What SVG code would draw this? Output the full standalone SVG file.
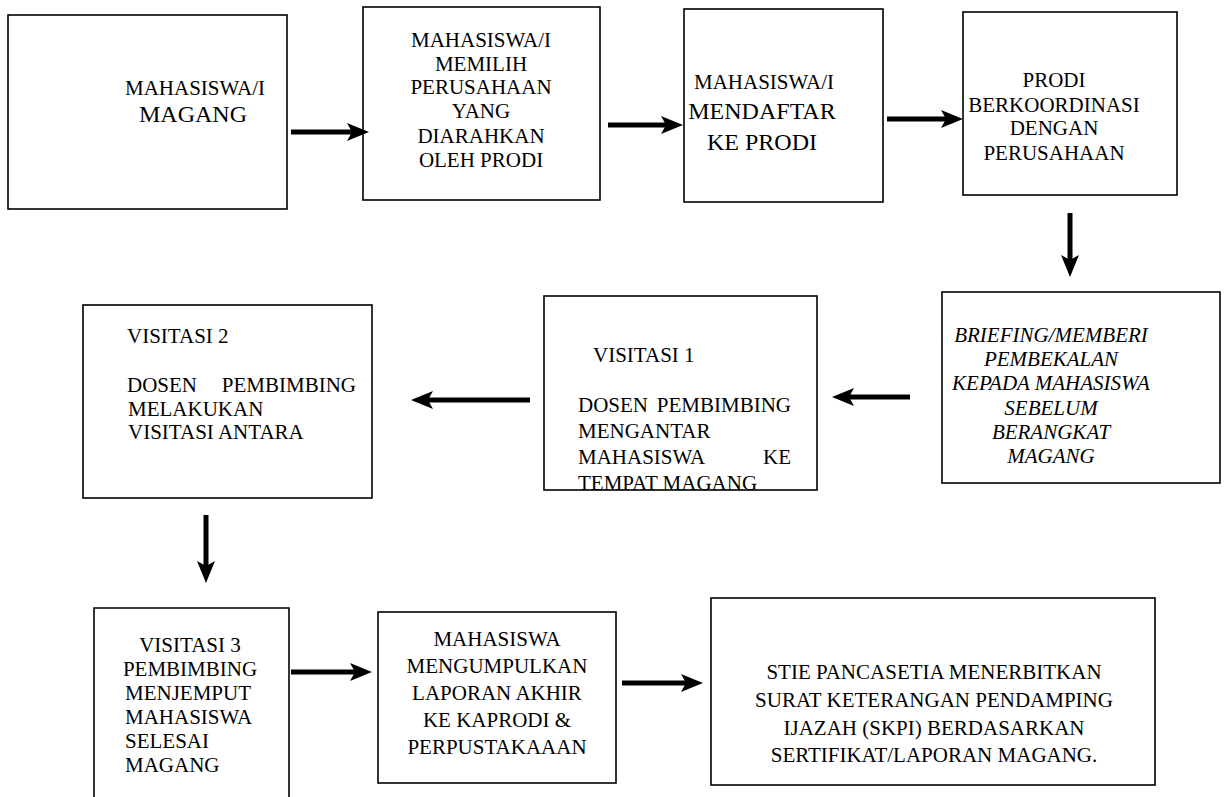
<svg xmlns="http://www.w3.org/2000/svg" width="1227" height="797" viewBox="0 0 1227 797">
<style>
.box{fill:#fff;stroke:#000;stroke-width:1.6}
text{font-family:"Liberation Serif","Times New Roman",serif;font-size:21px;fill:#000}
.c{text-anchor:middle}
.it{font-style:italic}
.big{font-size:24px}
.arr{stroke:#000;stroke-width:5;fill:none;marker-end:url(#ah)}
</style>
<defs>
<marker id="ah" markerUnits="userSpaceOnUse" markerWidth="22" markerHeight="18" refX="5" refY="9" orient="auto">
<path d="M0,0 L22,9 L0,18 L5,9 z" fill="#000"/>
</marker>
</defs>
<rect width="1227" height="797" fill="#fff"/>

<g id="n1">
<rect class="box" x="8" y="15" width="279" height="194"/>
<text class="c" x="195" y="95">MAHASISWA/I</text>
<text class="c big" x="193" y="122">MAGANG</text>
</g>

<g id="n2">
<rect class="box" x="363" y="7" width="237" height="193"/>
<text class="c" x="481" y="47">MAHASISWA/I</text>
<text class="c" x="481" y="71">MEMILIH</text>
<text class="c" x="481" y="94">PERUSAHAAN</text>
<text class="c" x="481" y="118">YANG</text>
<text class="c" x="481" y="143">DIARAHKAN</text>
<text class="c" x="481" y="167">OLEH PRODI</text>
</g>

<g id="n3">
<rect class="box" x="684" y="9" width="199" height="193"/>
<text class="c" x="764" y="89">MAHASISWA/I</text>
<text class="c big" x="762" y="119">MENDAFTAR</text>
<text class="c big" x="762" y="150">KE PRODI</text>
</g>

<g id="n4">
<rect class="box" x="963" y="12" width="214" height="183"/>
<text class="c" x="1054" y="87">PRODI</text>
<text class="c" x="1054" y="112">BERKOORDINASI</text>
<text class="c" x="1054" y="135">DENGAN</text>
<text class="c" x="1054" y="160">PERUSAHAAN</text>
</g>

<g id="n5">
<rect class="box" x="942" y="292" width="278" height="191"/>
<text class="c it" x="1051" y="342">BRIEFING/MEMBERI</text>
<text class="c it" x="1051" y="366">PEMBEKALAN</text>
<text class="c it" x="1051" y="390">KEPADA MAHASISWA</text>
<text class="c it" x="1051" y="415">SEBELUM</text>
<text class="c it" x="1051" y="439">BERANGKAT</text>
<text class="c it" x="1051" y="463">MAGANG</text>
</g>

<g id="n6">
<rect class="box" x="544" y="296" width="273" height="194"/>
<text x="593" y="362">VISITASI 1</text>
<text y="412"><tspan x="578">DOSEN</tspan><tspan x="791" text-anchor="end">PEMBIMBING</tspan></text>
<text x="578" y="438">MENGANTAR</text>
<text y="464"><tspan x="578">MAHASISWA</tspan><tspan x="791" text-anchor="end">KE</tspan></text>
<text x="578" y="490">TEMPAT MAGANG</text>
</g>

<g id="n7">
<rect class="box" x="83" y="305" width="289" height="193"/>
<text x="127" y="343">VISITASI 2</text>
<text y="392"><tspan x="127">DOSEN</tspan><tspan x="356" text-anchor="end">PEMBIMBING</tspan></text>
<text x="128" y="416">MELAKUKAN</text>
<text x="128" y="439">VISITASI ANTARA</text>
</g>

<g id="n8">
<path class="box" d="M94,800 V608 H289 V800"/>
<text class="c" x="190" y="652">VISITASI 3</text>
<text class="c" x="190" y="676">PEMBIMBING</text>
<text x="125" y="700">MENJEMPUT</text>
<text x="125" y="724">MAHASISWA</text>
<text x="125" y="748">SELESAI</text>
<text x="125" y="772">MAGANG</text>
</g>

<g id="n9">
<rect class="box" x="378" y="612" width="238" height="171"/>
<text class="c" x="497" y="646">MAHASISWA</text>
<text class="c" x="497" y="673">MENGUMPULKAN</text>
<text class="c" x="497" y="700">LAPORAN AKHIR</text>
<text class="c" x="497" y="727">KE KAPRODI &amp;</text>
<text class="c" x="497" y="754">PERPUSTAKAAAN</text>
</g>

<g id="n10">
<rect class="box" x="711" y="598" width="444" height="187"/>
<text class="c" x="934" y="679">STIE PANCASETIA MENERBITKAN</text>
<text class="c" x="934" y="707">SURAT KETERANGAN PENDAMPING</text>
<text class="c" x="934" y="735">IJAZAH (SKPI) BERDASARKAN</text>
<text class="c" x="934" y="762">SERTIFIKAT/LAPORAN MAGANG.</text>
</g>

<g id="connectors">
<line class="arr" x1="291" y1="132" x2="352" y2="132"/>
<line class="arr" x1="608" y1="125" x2="666" y2="125"/>
<line class="arr" x1="887" y1="119" x2="946" y2="119"/>
<line class="arr" x1="1070" y1="213" x2="1070" y2="260"/>
<line class="arr" x1="910" y1="397" x2="849" y2="397"/>
<line class="arr" x1="530" y1="400" x2="428" y2="400"/>
<line class="arr" x1="206" y1="515" x2="206" y2="566"/>
<line class="arr" x1="291" y1="672" x2="355" y2="672"/>
<line class="arr" x1="622" y1="683" x2="686" y2="683"/>
</g>
</svg>
